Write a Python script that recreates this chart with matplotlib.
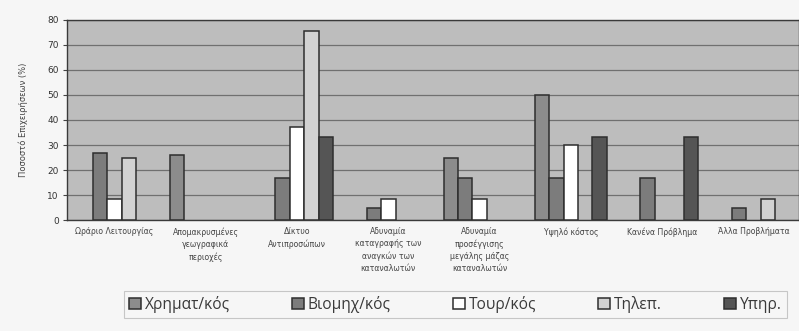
import numpy as np
import matplotlib
matplotlib.use("Agg")
import matplotlib.pyplot as plt

# Survey data: share of firms (%) reporting each problem, per sector
categories = [
    "Ωράριο Λειτουργίας",
    "Απομακρυσμένες\nγεωγραφικά\nπεριοχές",
    "Δίκτυο\nΑντιπροσώπων",
    "Αδυναμία\nκαταγραφής των\nαναγκών των\nκαταναλωτών",
    "Αδυναμία\nπροσέγγισης\nμεγάλης μάζας\nκαταναλωτών",
    "Υψηλό κόστος",
    "Κανένα Πρόβλημα",
    "Άλλα Προβλήματα",
]
series_names = ["Χρηματ/κός", "Βιομηχ/κός", "Τουρ/κός", "Τηλεπ.", "Υπηρ."]

chrimat = [0, 26, 0, 0, 25, 50, 0, 0]
viomich = [26.7, 0, 16.7, 5, 16.7, 16.7, 16.7, 5]
tour = [8.3, 0, 37, 8.3, 8.3, 30, 0, 0]
tilep = [25, 0, 75.5, 0, 0, 0, 0, 8.3]
ypir = [0, 0, 33.3, 0, 0, 33.3, 33.3, 0]

y_ticks = [0, 10, 20, 30, 40, 50, 60, 70, 80]

series_values = [chrimat, viomich, tour, tilep, ypir]
colors = ["#8c8c8c", "#7c7c7c", "#ffffff", "#d2d2d2", "#555555"]

fig = plt.figure(figsize=(7.99, 3.31), dpi=100, facecolor="#f6f6f6")
ax = fig.add_axes([0.084, 0.335, 0.916, 0.605])
ax.set_facecolor("#bdbdbd")

x = np.arange(len(categories))
width = 0.158
for i, (name, vals, col) in enumerate(zip(series_names, series_values, colors)):
    vals = np.asarray(vals, dtype=float)
    keep = vals > 0  # empty cells are not drawn
    offs = (i - 2) * width
    ax.bar(x[keep] + offs, vals[keep], width, color=col, edgecolor="#2e2e2e",
           linewidth=1.1, label=name, zorder=3)

ax.set_xlim(-0.52, 7.5)
ax.set_ylim(0, 80)
ax.set_yticks(y_ticks)
ax.set_yticklabels([str(t) for t in y_ticks], fontsize=6.5, color="#333333")
ax.yaxis.grid(True, color="#707070", linewidth=0.9, zorder=0)
ax.set_axisbelow(True)

ax.set_xticks(x)
ax.set_xticklabels(categories, fontsize=5.6, color="#444444", linespacing=1.45)
ax.tick_params(axis="x", length=0, pad=5)
ax.tick_params(axis="y", length=3, width=0.8, color="#444444", pad=3)

for side in ["left", "bottom", "top", "right"]:
    ax.spines[side].set_color("#3a3a3a")
    ax.spines[side].set_linewidth(1.0)

ax.set_ylabel("Ποσοστό Επιχειρήσεων (%)", fontsize=6, color="#444444", labelpad=14)

leg = fig.legend(loc="center", bbox_to_anchor=(0.57, 0.08), ncol=5,
                 frameon=True, fancybox=False,
                 handlelength=0.75, handleheight=0.75, handletextpad=0.25,
                 columnspacing=4.0, borderpad=0.35, borderaxespad=0.3,
                 edgecolor="#bbbbbb",
                 prop={"family": "Open Sans", "size": 11.2})
leg.get_frame().set_facecolor("#f6f6f6")
leg.get_frame().set_linewidth(0.8)
for t in leg.get_texts():
    t.set_color("#3a3a3a")

fig.savefig("out.png", dpi=100, facecolor=fig.get_facecolor())
